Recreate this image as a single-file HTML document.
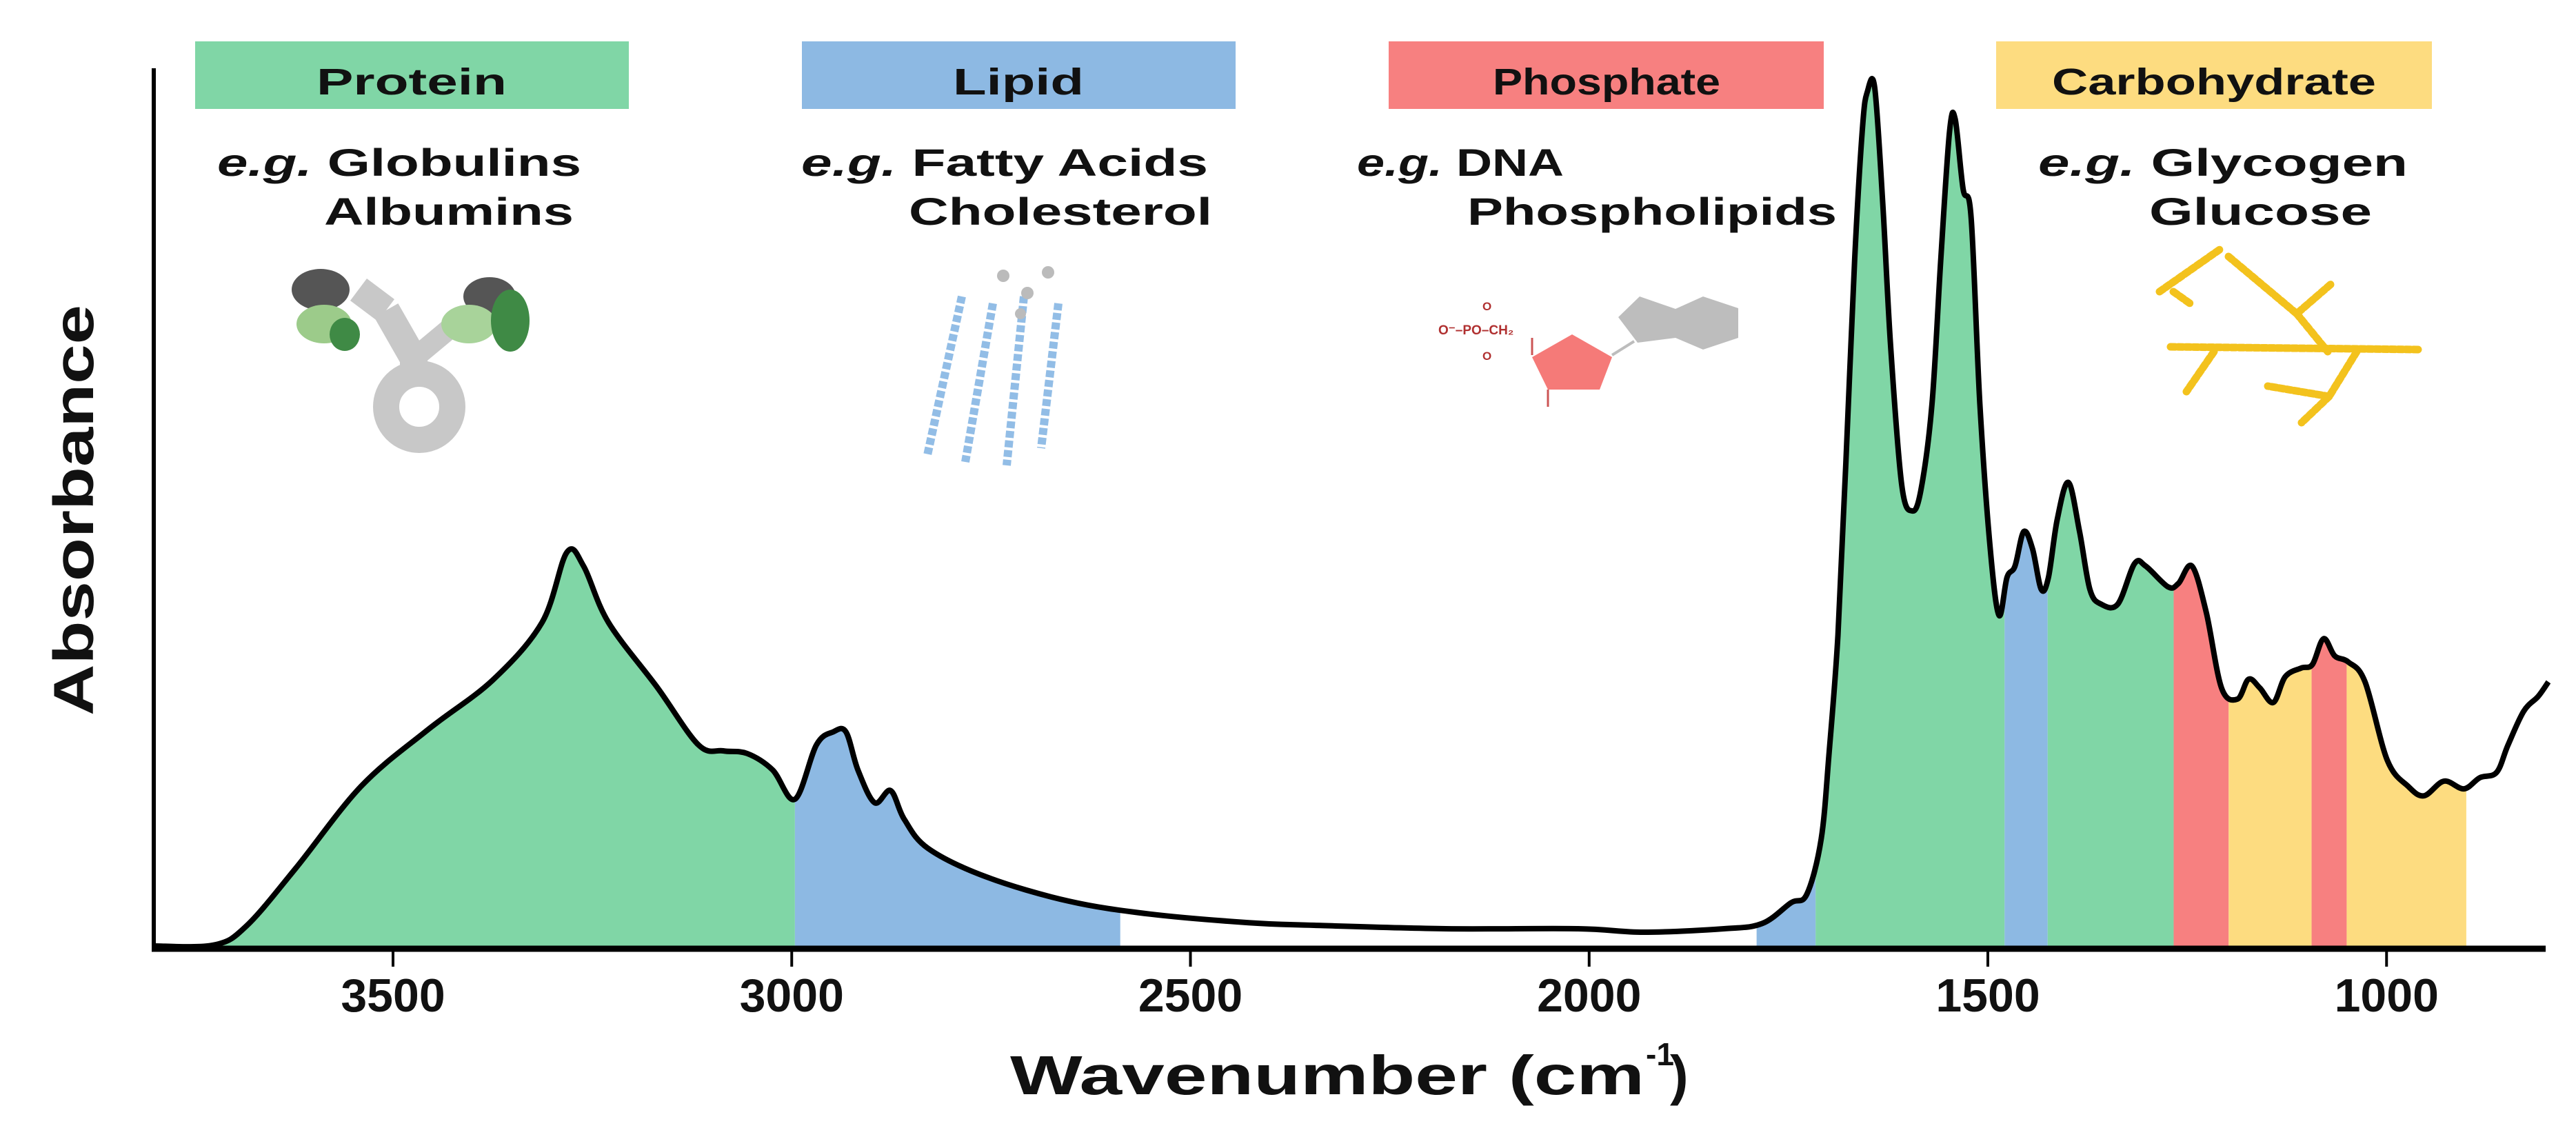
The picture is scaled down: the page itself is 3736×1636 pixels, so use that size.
<!DOCTYPE html>
<html><head><meta charset="utf-8"><style>
html,body{margin:0;padding:0;background:#fff}
svg{display:block}
text{font-family:"Liberation Sans",Arial,sans-serif;font-weight:bold;fill:#111}
</style></head><body>
<svg id="chart" width="3736" height="1636" viewBox="0 0 3736 1636" xmlns="http://www.w3.org/2000/svg">
<defs><clipPath id="areaClip"><path id="clipPath"/></clipPath></defs>
<g id="bands" clip-path="url(#areaClip)"></g>
<path id="curve" fill="none" stroke="#000" stroke-width="8" stroke-linejoin="round"/>
<line x1="223" y1="99" x2="223" y2="1378" stroke="#000" stroke-width="6"/>
<line x1="220" y1="1376" x2="3692" y2="1376" stroke="#000" stroke-width="9"/>
<g id="ticks"></g>
<text x="1465" y="1587" font-size="80" textLength="920" lengthAdjust="spacingAndGlyphs">Wavenumber (cm</text>
<text x="2387" y="1545" font-size="46">-1</text>
<text x="2422" y="1587" font-size="80">)</text>
<text transform="translate(135,740) rotate(-90)" text-anchor="middle" font-size="82" textLength="596" lengthAdjust="spacingAndGlyphs">Absorbance</text>

<g>
<rect x="283" y="60" width="629" height="98" fill="#80d6a6"/>
<text x="597" y="137" text-anchor="middle" font-size="54" textLength="276" lengthAdjust="spacingAndGlyphs">Protein</text>
<text x="315" y="255" font-size="56" textLength="528" lengthAdjust="spacingAndGlyphs"><tspan font-style="italic">e.g.</tspan> Globulins</text>
<text x="470" y="326" font-size="56" textLength="362" lengthAdjust="spacingAndGlyphs">Albumins</text>
</g>
<g>
<rect x="1163" y="60" width="629" height="98" fill="#8db9e3"/>
<text x="1477" y="137" text-anchor="middle" font-size="54" textLength="190" lengthAdjust="spacingAndGlyphs">Lipid</text>
<text x="1162" y="255" font-size="56" textLength="590" lengthAdjust="spacingAndGlyphs"><tspan font-style="italic">e.g.</tspan> Fatty Acids</text>
<text x="1318" y="326" font-size="56" textLength="440" lengthAdjust="spacingAndGlyphs">Cholesterol</text>
</g>
<g>
<rect x="2014" y="60" width="631" height="98" fill="#f78080"/>
<text x="2330" y="137" text-anchor="middle" font-size="54" textLength="330" lengthAdjust="spacingAndGlyphs">Phosphate</text>
<text x="1968" y="255" font-size="56" textLength="300" lengthAdjust="spacingAndGlyphs"><tspan font-style="italic">e.g.</tspan> DNA</text>
<text x="2128" y="326" font-size="56" textLength="536" lengthAdjust="spacingAndGlyphs">Phospholipids</text>
</g>
<g>
<rect x="2895" y="60" width="632" height="98" fill="#fddc80"/>
<text x="3211" y="137" text-anchor="middle" font-size="54" textLength="470" lengthAdjust="spacingAndGlyphs">Carbohydrate</text>
<text x="2956" y="255" font-size="56" textLength="536" lengthAdjust="spacingAndGlyphs"><tspan font-style="italic">e.g.</tspan> Glycogen</text>
<text x="3117" y="326" font-size="56" textLength="323" lengthAdjust="spacingAndGlyphs">Glucose</text>
</g>

<g>
<path d="M560 450 L600 520 L600 560" stroke="#c8c8c8" stroke-width="40" fill="none"/>
<path d="M560 450 L520 420" stroke="#c8c8c8" stroke-width="40" fill="none"/>
<path d="M600 520 L660 470" stroke="#c8c8c8" stroke-width="30" fill="none"/>
<circle cx="608" cy="590" r="48" fill="none" stroke="#c8c8c8" stroke-width="38"/>
<ellipse cx="465" cy="420" rx="42" ry="30" fill="#555"/>
<ellipse cx="470" cy="470" rx="40" ry="28" fill="#9ccb8a"/>
<ellipse cx="500" cy="485" rx="22" ry="24" fill="#3f8a45"/>
<ellipse cx="710" cy="430" rx="38" ry="28" fill="#555"/>
<ellipse cx="680" cy="470" rx="40" ry="28" fill="#a8d39a"/>
<ellipse cx="740" cy="465" rx="28" ry="45" fill="#3f8a45"/>
</g>
<g stroke="#92bde6" stroke-width="12" fill="none" stroke-dasharray="10 4">
<path d="M1395 430 L1345 660"/><path d="M1440 440 L1400 670"/><path d="M1485 430 L1460 675"/><path d="M1535 440 L1510 650"/>
<g fill="#bbb" stroke="none"><circle cx="1455" cy="400" r="9"/><circle cx="1490" cy="425" r="9"/><circle cx="1520" cy="395" r="9"/><circle cx="1480" cy="455" r="8"/></g>
</g>
<g>
<polygon points="2280,485 2338,518 2320,565 2245,565 2222,518" fill="#f57a78"/>
<polygon points="2347,460 2378,430 2430,448 2470,430 2521,447 2521,490 2470,507 2430,490 2375,497" fill="#bdbdbd"/>
<line x1="2338" y1="515" x2="2370" y2="495" stroke="#bdbdbd" stroke-width="4"/>
<line x1="2245" y1="565" x2="2245" y2="590" stroke="#c55" stroke-width="3"/>
<line x1="2222" y1="515" x2="2222" y2="490" stroke="#c55" stroke-width="3"/>
<text x="2086" y="485" font-size="19" style="fill:#b03030">O⁻–PO–CH₂</text>
<text x="2150" y="450" font-size="17" style="fill:#b03030">O</text>
<text x="2150" y="522" font-size="17" style="fill:#b03030">O</text>
</g>
<g stroke="#f3c21d" stroke-width="11" fill="none" stroke-linecap="round" stroke-dasharray="7 4">
<path d="M3132 423 L3222 360"/><path d="M3232 372 L3331 455 L3383 410"/><path d="M3331 455 L3376 510"/>
<path d="M3152 423 L3176 440"/><path d="M3148 503 L3510 507"/><path d="M3211 510 L3171 568"/>
<path d="M3418 510 L3378 575 L3289 560"/><path d="M3378 575 L3338 613"/>
</g>
</svg>
<script>
// x-axis ticks
const tickValues = [3500, 3000, 2500, 2000, 1500, 1000];
const tickLabels = ["3500", "3000", "2500", "2000", "1500", "1000"];
// spectrum data (wavenumber, absorbance normalized 0..1)
const wavenumbers = [3801,3725,3684,3622,3540,3457,3375,3313,3282,3261,3230,3169,3117,3086,3056,3024,2996,2969,2948,2932,2917,2896,2876,2859,2829,2756,2653,2551,2427,2345,2180,2014,1932,1831,1783,1747,1727,1709,1699,1688,1678,1667,1657,1651,1642,1632,1622,1608,1595,1584,1570,1559,1548,1541,1531,1521,1510,1497,1486,1476,1466,1455,1444,1433,1424,1413,1399,1385,1372,1358,1337,1316,1302,1274,1261,1244,1226,1207,1187,1173,1159,1142,1127,1107,1093,1079,1065,1048,1027,999,973,953,928,903,883,862,848,828,810,797];
const absorbance = [0,0.001,0.023,0.09,0.185,0.25,0.308,0.375,0.456,0.44,0.375,0.30,0.233,0.226,0.223,0.204,0.17,0.233,0.248,0.248,0.204,0.166,0.18,0.147,0.113,0.08,0.052,0.037,0.027,0.024,0.02,0.02,0.016,0.02,0.026,0.05,0.06,0.124,0.225,0.36,0.56,0.796,0.95,0.99,0.995,0.864,0.696,0.534,0.504,0.528,0.628,0.796,0.944,0.958,0.877,0.844,0.628,0.46,0.383,0.427,0.44,0.48,0.46,0.413,0.427,0.494,0.537,0.48,0.413,0.396,0.396,0.443,0.44,0.416,0.42,0.44,0.386,0.299,0.286,0.309,0.299,0.282,0.312,0.322,0.326,0.356,0.336,0.329,0.306,0.215,0.185,0.174,0.191,0.182,0.195,0.201,0.232,0.272,0.289,0.306];
// shaded bands: [from, to] wavenumber and class
const bandStarts = [3801,2996,1790,1716,1479,1425,1267,1198,1094,1050];
const bandEnds   = [2996,2588,1716,1479,1425,1267,1198,1094,1050,900];
const bandClasses = ["protein","lipid","lipid","protein","lipid","protein","phosphate","carbohydrate","phosphate","carbohydrate"];
const bandColors = {protein:"#80d6a6", lipid:"#8db9e3", phosphate:"#f78080", carbohydrate:"#fddc80"};

const NS = "http://www.w3.org/2000/svg";
function xScale(w){ return 570 + (3500 - w) * 1.1565; }
function yScale(a){ return 1372 - a * 1252; }

const pts = wavenumbers.map((w, i) => [xScale(w), yScale(absorbance[i])]);
let d = "M" + pts[0][0].toFixed(1) + " " + pts[0][1].toFixed(1);
for (let i = 0; i < pts.length - 1; i++) {
  const p0 = pts[Math.max(0, i - 1)], p1 = pts[i], p2 = pts[i + 1], p3 = pts[Math.min(pts.length - 1, i + 2)];
  const c1x = p1[0] + (p2[0] - p0[0]) / 6, c1y = p1[1] + (p2[1] - p0[1]) / 6;
  const c2x = p2[0] - (p3[0] - p1[0]) / 6, c2y = p2[1] - (p3[1] - p1[1]) / 6;
  d += " C" + c1x.toFixed(1) + " " + c1y.toFixed(1) + " " + c2x.toFixed(1) + " " + c2y.toFixed(1) + " " + p2[0].toFixed(1) + " " + p2[1].toFixed(1);
}
document.getElementById("curve").setAttribute("d", d);
document.getElementById("clipPath").setAttribute("d", d + " L" + pts[pts.length-1][0] + " 1376 L" + pts[0][0] + " 1376 Z");

const bands = document.getElementById("bands");
for (let i = 0; i < bandStarts.length; i++) {
  const r = document.createElementNS(NS, "rect");
  const x0 = xScale(bandStarts[i]), x1 = xScale(bandEnds[i]);
  r.setAttribute("x", x0); r.setAttribute("width", x1 - x0);
  r.setAttribute("y", 0); r.setAttribute("height", 1376);
  r.setAttribute("fill", bandColors[bandClasses[i]]);
  
  
  bands.appendChild(r);
}

const ticks = document.getElementById("ticks");
for (let i = 0; i < tickValues.length; i++) {
  const x = xScale(tickValues[i]);
  const l = document.createElementNS(NS, "line");
  l.setAttribute("x1", x); l.setAttribute("x2", x);
  l.setAttribute("y1", 1376); l.setAttribute("y2", 1402);
  l.setAttribute("stroke", "#000"); l.setAttribute("stroke-width", 4);
  
  
  ticks.appendChild(l);
  const t = document.createElementNS(NS, "text");
  t.setAttribute("x", x); t.setAttribute("y", 1467);
  t.setAttribute("text-anchor", "middle"); t.setAttribute("font-size", "68");
  t.textContent = tickLabels[i];
  
  
  ticks.appendChild(t);
}
</script>
</body></html>
